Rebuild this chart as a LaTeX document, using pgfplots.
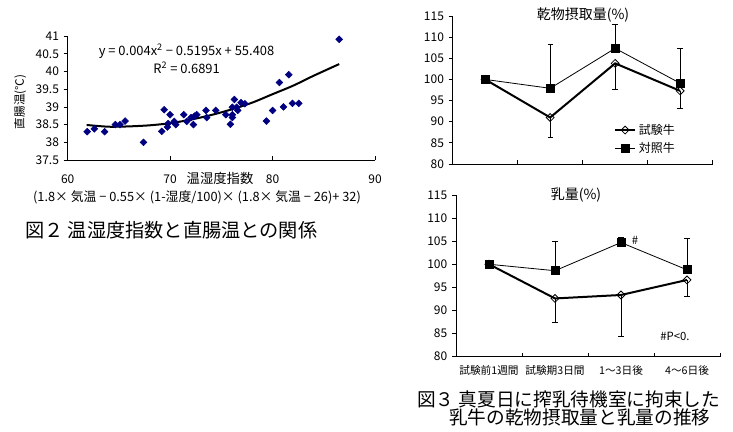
\documentclass[border=0pt]{standalone}
\usepackage{fontspec}
\setmainfont{Noto Sans CJK JP}
\usepackage{pgfplots}
\pgfplotsset{compat=1.18}
\definecolor{navy}{HTML}{000080}
\begin{document}
\begin{tikzpicture}
\path[use as bounding box] (0,0) rectangle (549.75pt,-324pt);
\pgfplotsset{
  every axis/.append style={
    scale only axis,
    axis lines=left,
    axis line style={-, black, line width=0.6pt},
    tick style={black, line width=0.6pt},
    ytick align=outside,
    xtick align=inside,
    major tick length=3pt,
    /pgf/number format/assume math mode=true,
    tick label style={font=\fontsize{9}{10}\selectfont},
    clip=false,
  }
}
% ---------- Fig 2 scatter ----------
\begin{axis}[
  at={(50.78pt,-120pt)}, anchor=south west,
  width=230.5pt, height=92.9pt,
  xmin=60, xmax=90, ymin=37.5, ymax=41,
  xtick={60,70,80,90},
  ytick={37.5,38,38.5,39,39.5,40,40.5,41},
  yticklabels={37.5,38,38.5,39,39.5,40,40.5,41},
  xticklabel style={yshift=-7.5pt},
]
\addplot[only marks, mark=square*, mark size=1.8pt, mark options={rotate=45, fill=navy, draw=navy}] table {
x y
61.9 38.30
62.6 38.38
63.6 38.30
64.65 38.50
65.1 38.50
65.6 38.60
67.4 38.00
69.18 38.31
69.42 38.92
69.73 38.43
69.8 38.53
69.99 38.78
70.4 38.59
70.55 38.50
71.33 38.78
71.62 38.59
72.04 38.70
72.27 38.50
72.37 38.74
72.6 38.78
73.5 38.90
73.57 38.70
74.45 38.90
75.43 38.78
75.88 38.51
76.07 38.99
76.07 38.78
76.07 38.70
76.27 39.21
76.5 38.99
76.6 38.90
76.92 39.12
77.3 39.09
79.4 38.60
80.0 38.90
80.67 39.69
81.06 39.00
81.58 39.91
81.94 39.10
82.56 39.10
86.5 40.91
};
\addplot[black, line width=1.5pt, smooth, no marks] coordinates {
(61.85,38.49) (64,38.44) (66,38.45) (68,38.48) (70,38.54) (72,38.64) (74,38.77) (76,38.93) (78,39.12) (80,39.36) (82,39.6) (84,39.88) (86.5,40.21)
};
\end{axis}
\node[font=\fontsize{9.7}{11}\selectfont] at (139.9pt,-38.25pt) {y = 0.004x\textsuperscript{2} − 0.5195x + 55.408};
\node[font=\fontsize{9.7}{11}\selectfont] at (140pt,-51pt) {R\textsuperscript{2} = 0.6891};
\node[font=\fontsize{8.7}{10}\selectfont, rotate=90] at (15pt,-76.5pt) {直腸温(℃)};
\node[font=\fontsize{10}{12}\selectfont] at (165pt,-133.5pt) {温湿度指数};
\node[font=\fontsize{9.6}{11}\selectfont] at (147.75pt,-147.75pt) {(1.8× 気温 − 0.55× (1-湿度/100)× (1.8× 気温 − 26)+ 32)};
\node[font=\fontsize{14.4}{16}\selectfont, anchor=west, inner sep=0pt] at (18.75pt,-172.5pt) {図２ 温湿度指数と直腸温との関係};
% ---------- Fig 3 top: dry matter ----------
\begin{axis}[
  at={(339.5pt,-123pt)}, anchor=south west,
  width=195pt, height=111pt,
  xmin=0.5, xmax=4.5, ymin=80, ymax=115,
  xtick={1.5,2.5,3.5,4.5}, xticklabels={},
  ytick={80,85,90,95,100,105,110,115},
  legend style={at={(0.62,0.29)}, anchor=north west, draw=none, fill=none,
    font=\fontsize{9}{11}\selectfont, inner sep=0pt, row sep=1pt, cells={anchor=west}},
  legend image code/.code={\draw[mark repeat=2,mark phase=2,#1] plot coordinates {(0pt,0pt)(7.5pt,0pt)(15pt,0pt)};},
]
\addplot[black, line width=1.5pt, mark=square, mark size=2.1pt,
  mark options={rotate=45, fill=white, line width=0.6pt},
  error bars/.cd, y dir=minus, y explicit,
  error bar style={line width=0.6pt}, error mark options={rotate=90, mark size=2pt, line width=0.6pt}]
  coordinates {(1,100) +- (0,0) (2,91.0) +- (0,4.8) (3,103.8) +- (0,6.1) (4,97.3) +- (0,4.1)};
\addlegendentry{試験牛}
\addplot[black, line width=0.6pt, mark=square*, mark size=3pt,
  mark options={fill=black},
  error bars/.cd, y dir=plus, y explicit,
  error bar style={line width=0.6pt}, error mark options={rotate=90, mark size=2pt, line width=0.6pt}]
  coordinates {(1,100) +- (0,0) (2,97.9) +- (0,10.5) (3,107.35) +- (0,5.7) (4,99.1) +- (0,8.2)};
\addlegendentry{対照牛}
\end{axis}
\node[font=\fontsize{10.5}{12}\selectfont] at (437.25pt,-11.25pt) {乾物摂取量(\%)};
% ---------- Fig 3 bottom: milk ----------
\begin{axis}[
  at={(342pt,-267.5pt)}, anchor=south west,
  width=198pt, height=121.3pt,
  xmin=0.5, xmax=4.5, ymin=80, ymax=115,
  xtick={1.5,2.5,3.5,4.5},
  xticklabels={試験前1週間,試験期3日間,1～3日後,4～6日後},
  xticklabel style={xshift=-24.75pt, yshift=-3pt, font=\fontsize{8}{10}\selectfont},
  ytick={80,85,90,95,100,105,110,115},
]
\addplot[black, line width=1.5pt, mark=square, mark size=2.1pt,
  mark options={rotate=45, fill=white, line width=0.6pt},
  error bars/.cd, y dir=minus, y explicit,
  error bar style={line width=0.6pt}, error mark options={rotate=90, mark size=2pt, line width=0.6pt}]
  coordinates {(1,100) +- (0,0) (2,92.6) +- (0,5.2) (3,93.35) +- (0,9.0) (4,96.6) +- (0,3.6)};
\addplot[black, line width=0.6pt, mark=square*, mark size=3pt,
  mark options={fill=black},
  error bars/.cd, y dir=plus, y explicit,
  error bar style={line width=0.6pt}, error mark options={rotate=90, mark size=2pt, line width=0.6pt}]
  coordinates {(1,100) +- (0,0) (2,98.6) +- (0,6.4) (3,104.7) +- (0,1.1) (4,98.8) +- (0,6.8)};
\end{axis}
\node[font=\fontsize{10.5}{12}\selectfont] at (432pt,-146.25pt) {乳量(\%)};
\node[font=\fontsize{8.5}{10}\selectfont] at (476.25pt,-180pt) {\#};
\node[font=\fontsize{8.5}{10}\selectfont] at (506.25pt,-252pt) {\#P<0.};
\node[font=\fontsize{14}{16}\selectfont, anchor=west, inner sep=0pt] at (312.75pt,-299.25pt) {図３ 真夏日に搾乳待機室に拘束した};
\node[font=\fontsize{14}{16}\selectfont, anchor=west, inner sep=0pt] at (336.75pt,-312.75pt) {乳牛の乾物摂取量と乳量の推移};
\end{tikzpicture}
\end{document}
